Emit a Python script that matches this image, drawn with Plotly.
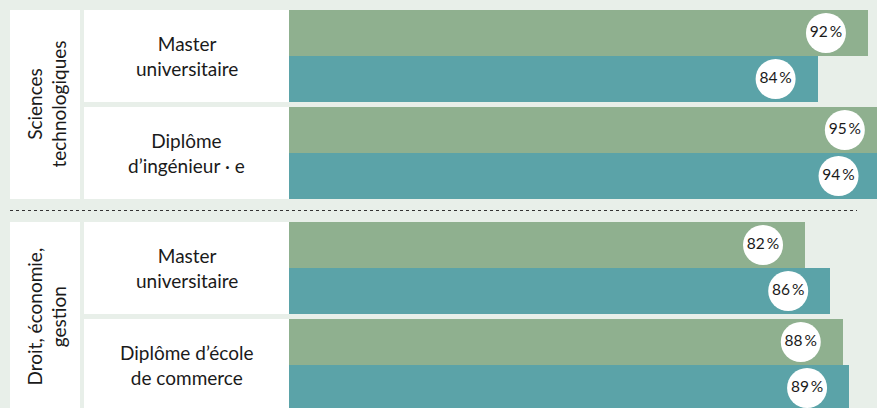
import plotly.graph_objects as go

# ---- data ----
groups = ["Sciences<br>technologiques", "Droit, économie,<br>gestion"]
diplomas = ["Master<br>universitaire", "Diplôme<br>d’ingénieur\u202f·\u202fe",
            "Master<br>universitaire", "Diplôme d’école<br>de commerce"]
diploma_group = [0, 0, 1, 1]
series_a = [92, 95, 82, 88]   # green (upper bar)
series_b = [84, 94, 86, 89]   # teal (lower bar)

# ---- layout constants (pixels) ----
W, H = 877, 408
BAR_X0 = 289           # pixel where value 0 sits
PX_PER_PCT = 6.293
TOP = 10
BAR_H = 46
ROW_GAP = 5
GROUP_GAP = 23
GREEN = "#8FB08F"
TEAL = "#5BA3A8"
BG = "#E8EFE9"
FONT = "Lato, sans-serif"
TXT = "#1a1a1a"

x_min = -BAR_X0 / PX_PER_PCT
x_max = (W - BAR_X0) / PX_PER_PCT

# row tops
row_tops = []
y = TOP
for i, g in enumerate(diploma_group):
    if i > 0:
        y += ROW_GAP if g == diploma_group[i - 1] else GROUP_GAP
    row_tops.append(y)
    y += 2 * BAR_H

ya = [t + BAR_H / 2 for t in row_tops]
yb = [t + BAR_H * 1.5 for t in row_tops]

fig = go.Figure()
fig.add_trace(go.Bar(orientation="h", x=series_a, y=ya, width=BAR_H,
                     marker=dict(color=GREEN, line=dict(width=0)), hoverinfo="skip"))
fig.add_trace(go.Bar(orientation="h", x=series_b, y=yb, width=BAR_H,
                     marker=dict(color=TEAL, line=dict(width=0)), hoverinfo="skip"))

OFF = 42 / PX_PER_PCT
vals = series_a + series_b
ys = ya + yb
fig.add_trace(go.Scatter(
    x=[v - OFF for v in vals], y=ys, mode="markers+text",
    marker=dict(size=40, color="white", line=dict(width=0)),
    text=[f"{v}\u2009%" for v in vals], textposition="middle center",
    textfont=dict(family=FONT, size=15.5, color=TXT),
    hoverinfo="skip", cliponaxis=False))

shapes = []
annotations = []
def px(xp):
    return xp / W

# group label boxes
for gi in range(len(groups)):
    idx = [i for i, g in enumerate(diploma_group) if g == gi]
    y0 = row_tops[idx[0]]
    y1 = row_tops[idx[-1]] + 2 * BAR_H
    shapes.append(dict(type="rect", xref="paper", yref="y", x0=px(10), x1=px(80),
                       y0=y0, y1=y1, fillcolor="white", line=dict(width=0), layer="below"))
    annotations.append(dict(xref="paper", yref="y", x=px(46), y=(y0 + y1) / 2,
                            xanchor="center", yanchor="middle",
                            text=groups[gi], showarrow=False, textangle=-90,
                            font=dict(family=FONT, size=19, color=TXT),
                            align="center"))

# diploma label boxes
for i, t in enumerate(row_tops):
    shapes.append(dict(type="rect", xref="paper", yref="y", x0=px(84), x1=px(BAR_X0),
                       y0=t, y1=t + 2 * BAR_H, fillcolor="white", line=dict(width=0),
                       layer="below"))
    annotations.append(dict(xref="paper", yref="y", x=px(186.5), y=t + BAR_H,
                            xanchor="center", yanchor="middle",
                            text=diplomas[i], showarrow=False,
                            font=dict(family=FONT, size=19, color=TXT),
                            align="center"))

# dotted separator
for gi in range(1, len(groups)):
    first = diploma_group.index(gi)
    ysep = row_tops[first] - GROUP_GAP / 2
    shapes.append(dict(type="line", xref="paper", yref="y", x0=px(10), x1=px(857),
                       y0=ysep, y1=ysep, line=dict(color="#333333", width=1.2, dash="dot")))

fig.update_layout(
    width=W, height=H, margin=dict(l=0, r=0, t=0, b=0),
    paper_bgcolor=BG, plot_bgcolor=BG, showlegend=False,
    barmode="overlay", bargap=0,
    xaxis=dict(range=[x_min, x_max], visible=False, fixedrange=True),
    yaxis=dict(range=[H, 0], visible=False, fixedrange=True),
    shapes=shapes, annotations=annotations,
)

fig.write_html("out.html", config={"displayModeBar": False},
               post_script="document.body.style.margin='0';document.body.style.overflow='hidden';")
